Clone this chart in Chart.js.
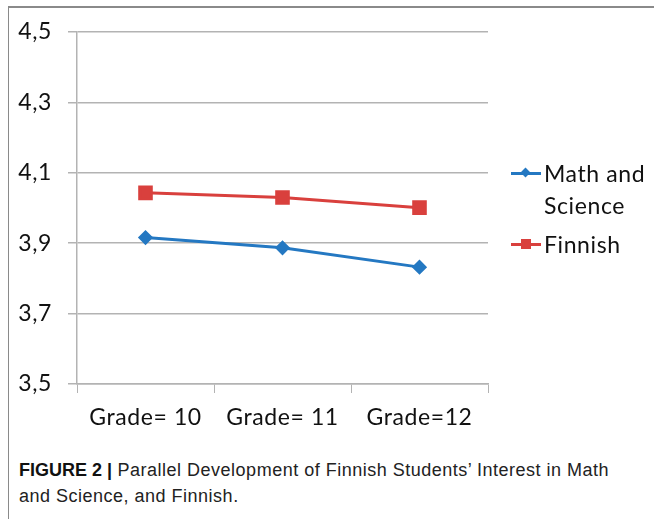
<!DOCTYPE html>
<html>
<head>
<meta charset="utf-8">
<script src="https://cdn.jsdelivr.net/npm/chart.js@4"></script>
<style>
  html, body { margin: 0; padding: 0; background: #fff; }
  #wrap { position: relative; width: 654px; height: 519px; overflow: hidden; }
  #frameTop { position: absolute; left: 8px; top: 6px; width: 646px; height: 2px; background: #8a8a8a; }
  #frameLeft { position: absolute; left: 8px; top: 6px; width: 1px; height: 513px; background: #8a8a8a; }
  #chart { position: absolute; left: 0; top: 0; }
  .legend { position: absolute; left: 511px; font-family: Lato, "Open Sans", sans-serif; font-size: 23px; letter-spacing: 0.6px; color: #111; line-height: 32px; }
  .legend .item { position: relative; padding-left: 33px; }
  .legend .line { position: absolute; left: 0; top: 15px; width: 30px; height: 3px; }
  .legend .mark { position: absolute; }
  #caption { position: absolute; left: 19px; top: 457px; font-family: "Liberation Sans", Arial, sans-serif; font-size: 18px; letter-spacing: 0.5px; color: #222; line-height: 26px; }
  #caption b { font-weight: bold; color: #111; letter-spacing: 0; }
</style>
</head>
<body>
<div id="wrap">
  <div id="frameTop"></div>
  <div id="frameLeft"></div>
  <canvas id="chart" width="654" height="440"></canvas>
  <div class="legend" style="top:157px;">
    <div class="item"><span class="line" style="background:#2478c2"></span><span class="mark" style="left:11px;top:12px;width:7px;height:7px;background:#2478c2;transform:rotate(45deg)"></span>Math and<br>Science</div>
  </div>
  <div class="legend" style="top:228px;">
    <div class="item"><span class="line" style="background:#d9403d"></span><span class="mark" style="left:10px;top:11px;width:10px;height:10px;background:#d9403d"></span>Finnish</div>
  </div>
  <div id="caption"><b>FIGURE 2 |</b> Parallel Development of Finnish Students’ Interest in Math<br>and Science, and Finnish.</div>
</div>
<script>
const grades = ["Grade= 10", "Grade= 11", "Grade=12"];
const mathScience = [3.916, 3.887, 3.832];
const finnish = [4.043, 4.030, 4.001];
const yTicks = [3.5, 3.7, 3.9, 4.1, 4.3, 4.5];

const gridColor = "#b3b3b3";
const tickFont = { family: "Lato, 'Open Sans', sans-serif", size: 23 };

// widen the tick text a little, the original font runs wider than Lato
const spacing = {
  id: "spacing",
  beforeDraw(chart) { chart.ctx.letterSpacing = "0.6px"; },
};

new Chart(document.getElementById("chart").getContext("2d"), {
  type: "line",
  data: {
    labels: grades,
    datasets: [
      {
        label: "Math and Science",
        data: mathScience,
        borderColor: "#2478c2",
        backgroundColor: "#2478c2",
        borderWidth: 3,
        pointStyle: "rectRot",
        pointRadius: 5.5,
        pointHoverRadius: 5.5,
        tension: 0,
      },
      {
        label: "Finnish",
        data: finnish,
        borderColor: "#d9403d",
        backgroundColor: "#d9403d",
        borderWidth: 3,
        pointStyle: "rect",
        pointRadius: 8.2,
        pointHoverRadius: 8.2,
        tension: 0,
      },
    ],
  },
  options: {
    responsive: false,
    animation: false,
    layout: { padding: { top: 32, right: 166, left: 0, bottom: 0 } },
    plugins: {
      legend: { display: false },
      tooltip: { enabled: false },
    },
    scales: {
      x: {
        offset: true,
        grid: { offset: true, drawOnChartArea: false, drawTicks: true, tickLength: 9, color: gridColor },
        border: { color: gridColor, width: 1.5 },
        ticks: { font: tickFont, color: "#111", padding: 11, maxRotation: 0 },
        afterFit(scale) { scale.height = 56; },
      },
      y: {
        min: 3.5,
        max: 4.5,
        afterBuildTicks(scale) { scale.ticks = yTicks.map(v => ({ value: v })); },
        grid: { color: gridColor, lineWidth: 1.5, tickLength: 9 },
        border: { color: gridColor, width: 1.5 },
        ticks: {
          font: tickFont,
          color: "#111",
          padding: 16,
          callback: v => v.toFixed(1).replace(".", ","),
        },
        afterFit(scale) { scale.width = 77; },
      },
    },
  },
  plugins: [spacing],
});
</script>
</body>
</html>
